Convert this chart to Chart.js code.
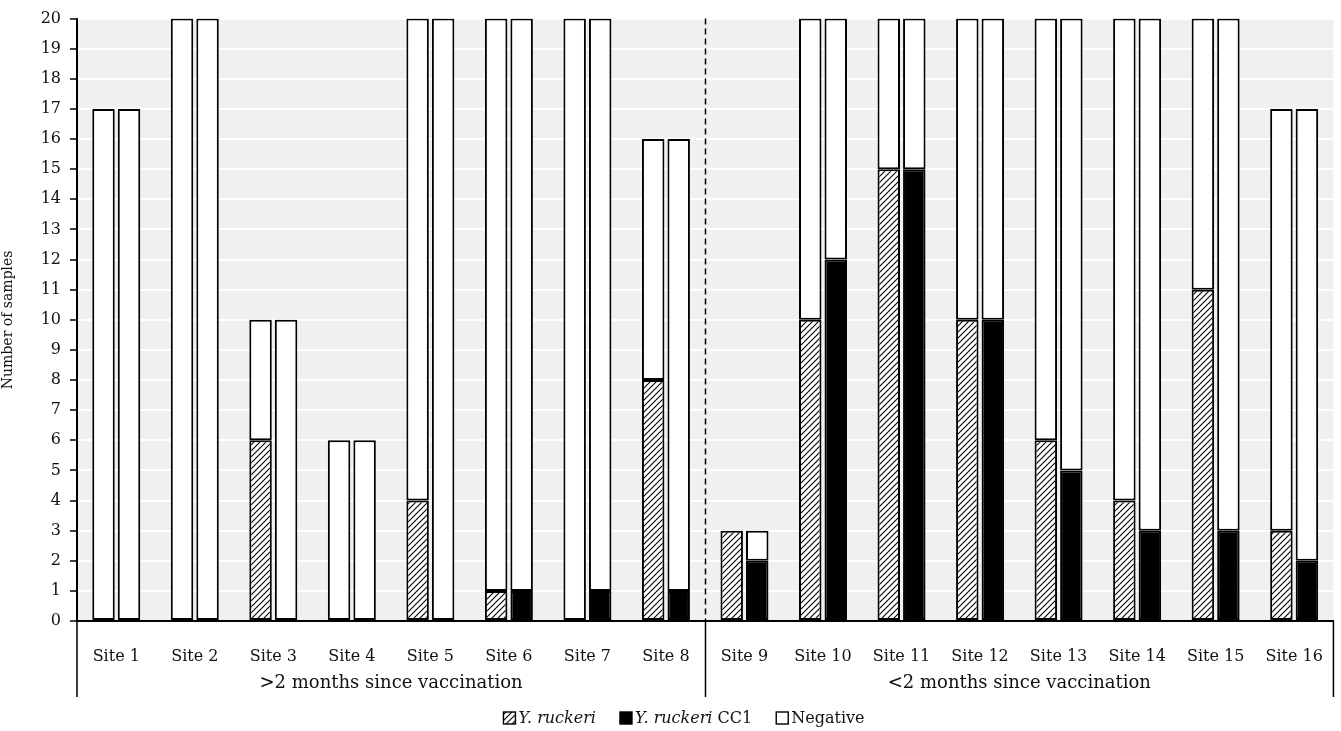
<!DOCTYPE html>
<html>
<head>
<meta charset="utf-8">
<script src="https://cdn.jsdelivr.net/npm/chart.js@4/dist/chart.umd.min.js"></script>
<style>
  html, body { margin: 0; padding: 0; background: #fff; }
  #wrap { width: 1341px; height: 731px; position: relative; }
</style>
</head>
<body>
<div id="wrap"><canvas id="chart"></canvas></div>
<script>
// --- data ---
const sites = ['Site 1', 'Site 2', 'Site 3', 'Site 4', 'Site 5', 'Site 6', 'Site 7', 'Site 8',
               'Site 9', 'Site 10', 'Site 11', 'Site 12', 'Site 13', 'Site 14', 'Site 15', 'Site 16'];
const totals   = [17, 20, 10, 6, 20, 20, 20, 16, 3, 20, 20, 20, 20, 20, 20, 17];
const ruckeri  = [0, 0, 6, 0, 4, 1, 0, 8, 3, 10, 15, 10, 6, 4, 11, 3];
const cc1      = [0, 0, 0, 0, 0, 1, 1, 1, 2, 12, 15, 10, 5, 3, 3, 2];
const groupLabels = ['>2 months since vaccination', '<2 months since vaccination'];
const groupSizes  = [8, 8];
const yTicksMax = 20;

const negA = totals.map((t, i) => t - ruckeri[i]);
const negB = totals.map((t, i) => t - cc1[i]);
// zero-height segments should not draw a border line at the axis
const noZero = arr => arr.map(v => (v === 0 ? null : v));

const FONT = "'DejaVu Serif', 'Liberation Serif', serif";

// diagonal hatch for Y. ruckeri
function makeHatch() {
  const c = document.createElement('canvas');
  c.width = 6; c.height = 6;
  const g = c.getContext('2d');
  g.fillStyle = '#fff';
  g.fillRect(0, 0, 6, 6);
  g.strokeStyle = '#000';
  g.lineWidth = 1.1;
  g.beginPath();
  g.moveTo(0, 6); g.lineTo(6, 0);
  g.moveTo(-1, 1); g.lineTo(1, -1);
  g.moveTo(5, 7); g.lineTo(7, 5);
  g.stroke();
  return g.createPattern(c, 'repeat');
}
const hatch = makeHatch();

// grey plot background
const bgPlugin = {
  id: 'bg',
  beforeDraw(chart) {
    const { ctx, chartArea: a } = chart;
    ctx.save();
    ctx.fillStyle = '#f0f0f0';
    ctx.fillRect(a.left, a.top, a.right - a.left, a.bottom - a.top);
    ctx.restore();
  }
};

// group separators, group labels and the legend
const extrasPlugin = {
  id: 'extras',
  afterDraw(chart) {
    const { ctx, chartArea: a, scales } = chart;
    const x = scales.x;
    const lowY = 697;
    ctx.save();
    ctx.strokeStyle = '#000';
    ctx.lineWidth = 1.5;
    // left and right ends below the axis
    ctx.beginPath();
    ctx.moveTo(a.left, a.bottom); ctx.lineTo(a.left, lowY);
    ctx.moveTo(a.right, a.bottom); ctx.lineTo(a.right, lowY);
    ctx.stroke();

    let start = 0;
    const bounds = [a.left];
    groupSizes.forEach(n => {
      const end = start + n;
      const right = end < sites.length
        ? (x.getPixelForValue(end - 1) + x.getPixelForValue(end)) / 2
        : a.right;
      bounds.push(right);
      start = end;
    });
    // separators between groups
    for (let i = 1; i < bounds.length - 1; i++) {
      const bx = Math.round(bounds[i]) + 0.5;
      ctx.beginPath();
      ctx.setLineDash([6, 4]);
      ctx.moveTo(bx, a.top); ctx.lineTo(bx, a.bottom);
      ctx.stroke();
      ctx.setLineDash([]);
      ctx.beginPath();
      ctx.moveTo(bx, a.bottom); ctx.lineTo(bx, lowY);
      ctx.stroke();
    }
    // group labels
    ctx.fillStyle = '#111';
    ctx.font = '18px ' + FONT;
    ctx.textAlign = 'center';
    ctx.textBaseline = 'middle';
    groupLabels.forEach((lab, i) => {
      ctx.fillText(lab, (bounds[i] + bounds[i + 1]) / 2, 683);
    });

    // legend (mixed italic / upright text)
    const items = [
      { fill: hatch, parts: [['italic', 'Y. ruckeri']] },
      { fill: '#000', parts: [['italic', 'Y. ruckeri'], ['normal', ' CC1']] },
      { fill: '#fff', parts: [['normal', 'Negative']] }
    ];
    const size = 16;
    const box = 12, boxGap = 3, itemGap = 24;
    ctx.textAlign = 'left';
    const widths = items.map(it => it.parts.reduce((w, p) => {
      ctx.font = p[0] + ' ' + size + 'px ' + FONT;
      return w + ctx.measureText(p[1]).width;
    }, 0) + box + boxGap);
    const total = widths.reduce((s, w) => s + w, 0) + itemGap * (items.length - 1);
    let lx = 684 - total / 2;
    const ly = 718;
    items.forEach((it, i) => {
      ctx.fillStyle = it.fill;
      ctx.fillRect(lx, ly - box / 2, box, box);
      ctx.lineWidth = 1.4;
      ctx.strokeStyle = '#000';
      ctx.strokeRect(lx, ly - box / 2, box, box);
      let tx = lx + box + boxGap;
      ctx.fillStyle = '#111';
      it.parts.forEach(p => {
        ctx.font = p[0] + ' ' + size + 'px ' + FONT;
        ctx.fillText(p[1], tx, ly + 1);
        tx += ctx.measureText(p[1]).width;
      });
      lx += widths[i] + itemGap;
    });
    ctx.restore();
  }
};

const common = { borderColor: '#000', borderWidth: 2, borderSkipped: false,
                 categoryPercentage: 0.65, barPercentage: 0.88 };

new Chart(document.getElementById('chart'), {
  type: 'bar',
  data: {
    labels: sites,
    datasets: [
      Object.assign({ label: 'Y. ruckeri', data: noZero(ruckeri), backgroundColor: hatch, stack: 'a' }, common),
      Object.assign({ label: 'Negative', data: noZero(negA), backgroundColor: '#fff', stack: 'a' }, common),
      Object.assign({ label: 'Y. ruckeri CC1', data: noZero(cc1), backgroundColor: '#000', stack: 'b' }, common),
      Object.assign({ label: 'Negative ', data: noZero(negB), backgroundColor: '#fff', stack: 'b' }, common)
    ]
  },
  options: {
    responsive: true,
    maintainAspectRatio: false,
    animation: false,
    layout: { padding: { top: 18, right: 4, bottom: 0, left: 0 } },
    plugins: {
      legend: { display: false },
      tooltip: { enabled: false }
    },
    scales: {
      x: {
        stacked: true,
        grid: { display: false },
        border: { color: '#000', width: 2 },
        ticks: { color: '#111', font: { family: FONT, size: 16 }, padding: 18, maxRotation: 0, autoSkip: false },
        afterFit(s) { s.height = 110; }
      },
      y: {
        stacked: true,
        min: 0,
        max: yTicksMax,
        grid: { color: '#fff', lineWidth: 2, tickColor: '#000', tickLength: 7, tickWidth: 1.5 },
        border: { color: '#000', width: 2 },
        ticks: { stepSize: 1, color: '#111', font: { family: FONT, size: 16 }, padding: 9 },
        title: { display: true, text: 'Number of samples', color: '#111', font: { family: FONT, size: 14 }, padding: 0 },
        afterFit(s) { s.width = 77; }
      }
    }
  },
  plugins: [bgPlugin, extrasPlugin]
});
</script>
</body>
</html>
